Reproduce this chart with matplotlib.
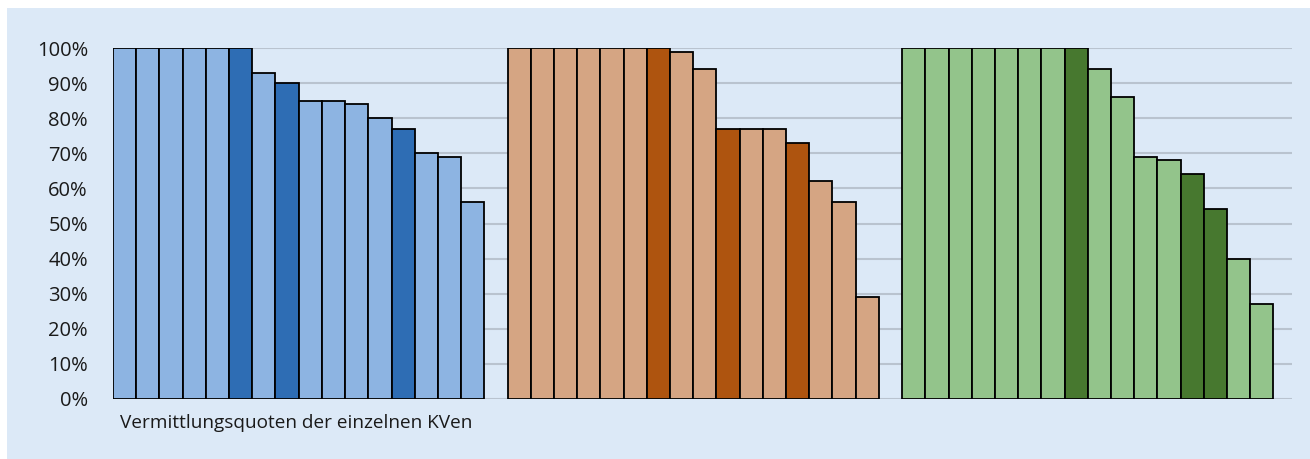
import matplotlib.pyplot as plt
from matplotlib.patches import Rectangle

# Vermittlungsquoten (%) per KV, three groups of 16, dark bars marked with 1
blue_vals = [100, 100, 100, 100, 100, 100, 93, 90, 85, 85, 84, 80, 77, 70, 69, 56]
blue_dark = [0, 0, 0, 0, 0, 1, 0, 1, 0, 0, 0, 0, 1, 0, 0, 0]
orange_vals = [100, 100, 100, 100, 100, 100, 100, 99, 94, 77, 77, 77, 73, 62, 56, 29]
orange_dark = [0, 0, 0, 0, 0, 0, 1, 0, 0, 1, 0, 0, 1, 0, 0, 0]
green_vals = [100, 100, 100, 100, 100, 100, 100, 100, 94, 86, 69, 68, 64, 54, 40, 27]
green_dark = [0, 0, 0, 0, 0, 0, 0, 1, 0, 0, 0, 0, 1, 1, 0, 0]
yticks = [0, 10, 20, 30, 40, 50, 60, 70, 80, 90, 100]
xlabel = 'Vermittlungsquoten der einzelnen KVen'

bg = '#dce9f7'
groups = [
    (blue_vals, blue_dark, '#8db4e2', '#2e6db4'),
    (orange_vals, orange_dark, '#d5a583', '#ae540f'),
    (green_vals, green_dark, '#93c48b', '#47782f'),
]

plt.rcParams['font.family'] = ['Open Sans', 'DejaVu Sans']

fig = plt.figure(figsize=(13.1, 4.59), dpi=100)
fig.patch.set_facecolor('white')
fig.patches.append(Rectangle((7 / 1310, 0), 1 - 7 / 1310, 1 - 8 / 459,
                             transform=fig.transFigure, facecolor=bg,
                             edgecolor='none', zorder=-5))

ax = fig.add_axes([113 / 1310, 1 - 399 / 459, (1292 - 113) / 1310, (399 - 48) / 459])
ax.set_facecolor('none')

start = 0
for vals, dark, light_c, dark_c in groups:
    xs = [start + i for i in range(len(vals))]
    colors = [dark_c if d else light_c for d in dark]
    ax.bar(xs, vals, width=1.0, color=colors, edgecolor='black', linewidth=1.3, zorder=3)
    start += len(vals) + 1

ax.set_xlim(-0.5, 50.3)
ax.set_ylim(0, 100)
ax.set_yticks(yticks)
ax.set_yticklabels([f'{t}%' for t in yticks], fontsize=14.5, color='#1a1a1a')
ax.set_xticks([])
ax.yaxis.grid(True, color='#b9c3cf', linewidth=1.5, zorder=0)
ax.set_axisbelow(True)
ax.tick_params(axis='y', length=0, pad=18)
for s in ax.spines.values():
    s.set_visible(False)

fig.text(120 / 1310, 1 - 423 / 459, xlabel, fontsize=13.7, color='#1a1a1a',
         ha='left', va='center')

fig.savefig('out.png', dpi=100)
